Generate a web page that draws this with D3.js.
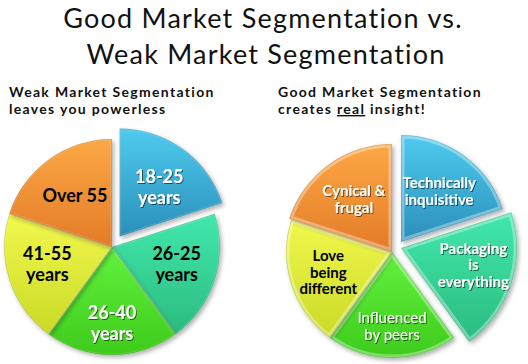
<!DOCTYPE html>
<html><head><meta charset="utf-8">
<script src="https://cdn.jsdelivr.net/npm/d3@7"></script>
<style>body{margin:0;background:#fff}svg{display:block}</style>
</head><body><svg id="c" width="528" height="364"></svg>
<script>
// ---------- data ----------
const titleLines = ["Good Market Segmentation vs.", "Weak Market Segmentation"];
const leftHeading = ["Weak Market Segmentation", "leaves you powerless"];
const rightHeading = ["Good Market Segmentation", "creates ", "real", " insight!"];
const leftCategories = [["18-25", "years"], ["26-25", "years"], ["26-40", "years"], ["41-55", "years"], ["Over 55"]];
const leftShares = [1, 1, 1, 1, 1];
const rightCategories = [["Technically", "inquisitive"], ["Packaging", "is", "everything"], ["Influenced", "by peers"], ["Love", "being", "different"], ["Cynical &", "frugal"]];
const rightShares = [1, 1, 1, 1, 1];

// ---------- styles ----------
const FONT = "Lato, 'Open Sans', sans-serif";
const sliceColors = [
  ["#4fcbef", "#2a8fba"],
  ["#42e8ac", "#2bbb7f"],
  ["#62f23e", "#3ecb1c"],
  ["#f3f84e", "#c9da25"],
  ["#fca846", "#e37b26"]
];
const leftStyle = {cx: 112, cy: 247, r: [108, 108, 108, 108, 108], off: [13, 0, 0, 0, 0],
  labelR: [64, 68, 76, 68, 63], nudge: [[2, 2], [0, -4], [0, 0], [0, -4], [0, 0]],
  textColor: ["#fff", "#000", "#fff", "#000", "#000"], bold: [1, 1, 1, 1, 1], fs: 18, lh: 21};
const rightStyle = {cx: 392, cy: 252, r: [107, 116, 106, 106, 108],
  offXY: [[9, -10], [9, -4], [0, 0], [0, 0], [0, 0]],
  labelR: [65, 74, 74, 67, 65], nudge: [[0, 2], [2, -6], [0, 0], [0, 0], [0, 0]],
  textColor: ["#fff", "#fff", "#fff", "#000", "#fff"], bold: [1, 1, 0, 1, 1], fs: 15, lh: 16.5};

const svg = d3.select("#c");
const defs = svg.append("defs");
const sh = defs.append("filter").attr("id", "shadow").attr("x", "-20%").attr("y", "-20%").attr("width", "140%").attr("height", "140%");
sh.append("feDropShadow").attr("dx", 2).attr("dy", 2.5).attr("stdDeviation", 2).attr("flood-color", "#000").attr("flood-opacity", 0.3);
const ts = defs.append("filter").attr("id", "tshadow").attr("x", "-10%").attr("y", "-30%").attr("width", "130%").attr("height", "160%");
ts.append("feDropShadow").attr("dx", 1).attr("dy", 1).attr("stdDeviation", 0.6).attr("flood-color", "#000").attr("flood-opacity", 0.55);

sliceColors.forEach((c, i) => {
  const g = defs.append("linearGradient").attr("id", "grad" + i).attr("x1", 0).attr("y1", 0).attr("x2", 0).attr("y2", 1);
  g.append("stop").attr("offset", "0%").attr("stop-color", c[0]);
  g.append("stop").attr("offset", "100%").attr("stop-color", c[1]);
});

// ---------- titles ----------
function fitSpacing(sel, target) {
  const len = sel.node().getComputedTextLength();
  const n = sel.text().length;
  const ls = Math.max(-0.5, Math.min(1.5, (target - len) / n));
  sel.attr("letter-spacing", ls);
  return ls;
}
const t1 = svg.append("text").attr("x", 263).attr("y", 28).attr("text-anchor", "middle")
  .attr("font-family", FONT).attr("font-size", 27).attr("fill", "#111").text(titleLines[0]);
const tls = fitSpacing(t1, 400);
svg.append("text").attr("x", 266).attr("y", 64).attr("text-anchor", "middle")
  .attr("font-family", FONT).attr("font-size", 27).attr("letter-spacing", tls).attr("fill", "#111").text(titleLines[1]);

const HFS = 14;
const HY1 = 97, HY2 = 114;
const h1 = svg.append("text").attr("x", 9).attr("y", HY1).attr("font-family", FONT).attr("font-weight", "bold")
  .attr("font-size", HFS).attr("fill", "#111").text(leftHeading[0]);
const hls = fitSpacing(h1, 206);
svg.append("text").attr("x", 9).attr("y", HY2).attr("font-family", FONT).attr("font-weight", "bold")
  .attr("font-size", HFS).attr("letter-spacing", hls).attr("fill", "#111").text(leftHeading[1]);
svg.append("text").attr("x", 278).attr("y", HY1).attr("font-family", FONT).attr("font-weight", "bold")
  .attr("font-size", HFS).attr("letter-spacing", hls).attr("fill", "#111").text(rightHeading[0]);
const h4 = svg.append("text").attr("x", 278).attr("y", HY2).attr("font-family", FONT).attr("font-weight", "bold")
  .attr("font-size", HFS).attr("letter-spacing", hls).attr("fill", "#111");
h4.append("tspan").text(rightHeading[1]);
h4.append("tspan").attr("text-decoration", "underline").text(rightHeading[2]);
h4.append("tspan").text(rightHeading[3]);

// ---------- pies ----------
const pie = d3.pie().sort(null).value(d => d);

function drawPie(shares, labels, st, key) {
  const arcs = pie(shares);
  const g = svg.append("g").attr("transform", `translate(${st.cx},${st.cy})`);
  arcs.forEach((a, i) => {
    const mid = (a.startAngle + a.endAngle) / 2;
    let ox, oy;
    if (st.offXY) { ox = st.offXY[i][0]; oy = st.offXY[i][1]; }
    else { ox = Math.sin(mid) * st.off[i]; oy = -Math.cos(mid) * st.off[i]; }
    const arc = d3.arc().innerRadius(0).outerRadius(st.r[i]);
    const sg = g.append("g").attr("transform", `translate(${ox},${oy})`);
    const d = arc(a);
    const cid = key + "clip" + i;
    defs.append("clipPath").attr("id", cid).append("path").attr("d", d)
      .attr("transform", `translate(${st.cx + ox},${st.cy + oy})`);
    sg.append("path").attr("d", d).attr("fill", `url(#grad${i})`).attr("filter", "url(#shadow)");
    const bv = svg.append("g").attr("clip-path", `url(#${cid})`);
    bv.append("path").attr("d", d).attr("transform", `translate(${st.cx + ox},${st.cy + oy})`)
      .attr("fill", "none").attr("stroke", "#fff").attr("stroke-opacity", key === "R" ? 0.35 : 0.2)
      .attr("stroke-width", key === "R" ? 7 : 3);
    bv.append("path").attr("d", d).attr("transform", `translate(${st.cx + ox},${st.cy + oy})`)
      .attr("fill", "none").attr("stroke", "#000").attr("stroke-opacity", 0.12).attr("stroke-width", 2);
    const la = d3.arc().innerRadius(st.labelR[i]).outerRadius(st.labelR[i]);
    const c = la.centroid(a);
    const lx = c[0] + ox + st.nudge[i][0], ly = c[1] + oy + st.nudge[i][1];
    const lines = labels[i];
    const tx = g.append("text").attr("text-anchor", "middle").attr("font-family", FONT)
      .attr("font-size", st.fs).attr("font-weight", st.bold[i] ? "bold" : "normal")
      .attr("fill", st.textColor[i]);
    if (st.textColor[i] === "#fff") tx.attr("filter", "url(#tshadow)");
    lines.forEach((ln, j) => {
      tx.append("tspan").attr("x", lx).attr("y", ly + (j - (lines.length - 1) / 2) * st.lh).attr("dy", "0.35em").text(ln);
    });
  });
}
drawPie(leftShares, leftCategories, leftStyle, "L");
drawPie(rightShares, rightCategories, rightStyle, "R");
</script></body></html>
